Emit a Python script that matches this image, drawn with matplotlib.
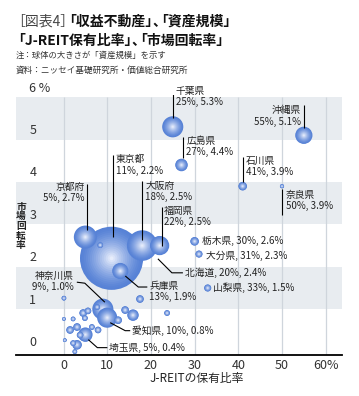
import numpy as np
import matplotlib
matplotlib.use("Agg")
import matplotlib.pyplot as plt

plt.rcParams['font.family'] = ['Noto Sans CJK JP', 'DejaVu Sans']

# labelled prefectures (drawing order: back to front)
names = ['東京都', '北海道', '大阪府', '京都府', '千葉県', '神奈川県', '愛知県', '福岡県',
         '沖縄県', '兵庫県', '埼玉県', '広島県', '石川県', '栃木県', '大分県', '山梨県', '奈良県']
share = [11, 20, 18, 5, 25, 9, 10, 22, 55, 13, 5, 27, 41, 30, 31, 33, 50]          # J-REIT保有比率 (%)
turnover = [2.2, 2.4, 2.5, 2.7, 5.3, 1.0, 0.8, 2.5, 5.1, 1.9, 0.4, 4.4, 3.9, 2.6, 2.3, 1.5, 3.9]  # 市場回転率 (%)
scale = [94, 1.5, 22, 12.5, 10.5, 10.5, 9.5, 8.7, 7, 6.2, 4.9, 3.7, 1.75, 1.75, 1.2, 1.2, 0.42]  # 資産規模 (relative)

# other prefectures (no labels)
other_share = [15.9, 3.1, 17.5, 14.1, 12.5, 3.1, 1.5, 4.5, 5.6, 7.9, 3.8,
               23.7, 4.9, 7.7, 6.5, 2.2, 8.4, 0.1, 2.2, 2.6, 0.1, 0.3]
other_turnover = [0.86, 0.16, 1.24, 0.98, 0.74, 0.58, 0.51, 0.91, 0.96, 0.51, 0.39,
                  0.91, 0.79, 1.05, 0.58, 0.77, 2.51, 1.26, 0.2, 0.0, 0.77, 0.27]
other_scale = [3.1, 2.16, 1.38, 1.38, 1.38, 1.38, 1.38, 1.38, 1.06, 1.06, 1.06,
               0.78, 0.78, 0.78, 0.78, 0.54, 0.78, 0.54, 0.78, 0.54, 0.35, 0.35]

yticks = [0, 1, 2, 3, 4, 5, 6]
ytick_labels = ['0', '1', '2', '3', '4', '5', '6 %']
xticks = [0, 10, 20, 30, 40, 50, 60]
xtick_labels = ['0', '10', '20', '30', '40', '50', '60%']

W, H = 359, 396
fig = plt.figure(figsize=(W / 100, H / 100), dpi=100)
ax = fig.add_axes([16 / W, 1 - 355 / H, 326 / W, 260 / H])
ax.set_xlim(-10.87, 63.73)
ax.set_ylim(-0.08, 6.05)

for lo in (1, 3, 5):
    ax.axhspan(lo, lo + 1, color='#e8ecf0', lw=0, zorder=0)
ax.vlines(xticks, -0.08, 6, color='#cfd5dc', lw=0.9, zorder=1)

for s in ['top', 'right', 'left']:
    ax.spines[s].set_visible(False)
ax.spines['bottom'].set_linewidth(1.3)
ax.set_xticks([])
ax.set_yticks([])

for v, lab in zip(yticks, ytick_labels):
    ax.text(-7.8, v + 0.06, lab, ha='left', va='bottom', fontsize=9, color='#333333', zorder=5)
for v, lab in zip(xticks, xtick_labels):
    ax.text(v, -0.33, lab, ha='center', va='center', fontsize=9, color='#333333')

ax.text(30.4, -0.63, 'J-REITの保有比率', ha='center', va='center', fontsize=8.5, color='#222222')
fig.text(21 / W, 1 - 226 / H, '市\n場\n回\n転\n率', ha='center', va='center', fontsize=7,
         fontweight='bold', linespacing=0.95, color='#222222')

# gradient bubbles
edge = np.array([0.34, 0.51, 0.84])
centre = np.array([0.96, 0.97, 1.0])
n_layers = 16
k = 22.0


def bubble(x, y, v):
    f = 1 - np.arange(n_layers) / n_layers
    t = 1 - f
    cols = [edge + (centre - edge) * tt ** 1.4 for tt in t]
    ax.scatter([x] * n_layers, [y] * n_layers, s=k * v * f ** 2, c=cols, lw=0, zorder=3)


for x, y, v in zip(share, turnover, scale):
    bubble(x, y, v)
order = np.argsort(other_scale)[::-1]
for i in order:
    bubble(other_share[i], other_turnover[i], other_scale[i])


def off(x, y, dx, dy):
    X, Y = ax.transData.transform((x, y))
    return ax.transData.inverted().transform((X + dx, Y + dy))


# leader offsets (px), text offset (px), alignment, two-line?
labels = {
    '千葉県': ([(0, 9), (0, 40)], (3, 41), 'left', 'top', True),
    '沖縄県': ([(0, 7), (0, 30)], (-3, 30), 'right', 'top', True),
    '広島県': ([(2, 7), (2, 28)], (5, 29), 'left', 'top', True),
    '石川県': ([(0, 4), (0, 29)], (3, 30), 'left', 'top', True),
    '奈良県': ([(0, -3), (0, -29)], (4, -4), 'left', 'top', True),
    '京都府': ([(1.5, 7), (1.5, 53)], (-1, 55), 'right', 'top', True),
    '東京都': ([(1.5, 21), (1.5, 103)], (4.5, 104), 'left', 'top', True),
    '大阪府': ([(0, 6), (0, 65)], (3, 65), 'left', 'top', True),
    '福岡県': ([(2, 0), (2, 39)], (4, 40), 'left', 'top', True),
    '栃木県': ([], (7, 0), 'left', 'center', False),
    '大分県': ([], (7, -2), 'left', 'center', False),
    '山梨県': ([], (5.5, 0), 'left', 'center', False),
    '北海道': ([(7, -9), (21, -23), (32, -23)], (34, -23), 'left', 'center', False),
    '兵庫県': ([(5, -5), (18, -16), (27, -16)], (29, -10), 'left', 'top', True),
    '神奈川県': ([(2, 7), (-18, 26), (-26, 27)], (-29, 38), 'right', 'top', True),
    '愛知県': ([(3, -5), (18, -13), (23, -13)], (25, -13), 'left', 'center', False),
    '埼玉県': ([(3, -5), (12, -13), (22, -13)], (24, -13), 'left', 'center', False),
}

for name, (pts, tpos, ha, va, two) in labels.items():
    i = names.index(name)
    x, y = share[i], turnover[i]
    if pts:
        line = np.array([off(x, y, dx, dy) for dx, dy in pts])
        ax.plot(line[:, 0], line[:, 1], color='black', lw=0.8, zorder=4, solid_capstyle='butt')
    sep = '\n' if two else ', '
    txt = f'{name}{sep}{share[i]}%, {turnover[i]:.1f}%'
    tx, ty = off(x, y, *tpos)
    ax.text(tx, ty, txt, ha=ha, va=va, fontsize=7, color='#222222', linespacing=1.15,
            multialignment=ha, zorder=6)


# titles: pieces chained with tightened bracket spacing (offsets in points)
def title_line(x, y, pieces):
    prev = None
    for txt, gap, bold in pieces:
        kw = dict(fontsize=10, va='center', ha='left',
                  fontweight='bold' if bold else 'normal',
                  color='#111111' if bold else '#444444')
        if prev is None:
            prev = fig.text(x, y, txt, **kw)
        else:
            prev = ax.annotate(txt, xy=(1, 0.5), xycoords=prev, xytext=(gap, 0),
                               textcoords='offset points', annotation_clip=False, **kw)


title_line(11 / W, 1 - 22 / H, [('［図表4］', 0, False), ('「収益不動産」', -8.5, True),
                                ('、', -5, True), ('「資産規模」', -8.5, True)])
title_line(11 / W, 1 - 41 / H, [('「J-REIT保有比率」', 0, True), ('、', -5, True),
                                ('「市場回転率」', -8.5, True)])
fig.text(16 / W, 1 - 55 / H, '注：球体の大きさが「資産規模」を示す', fontsize=6, va='center',
         ha='left', color='#333333')
fig.text(16 / W, 1 - 70 / H, '資料：ニッセイ基礎研究所・価値総合研究所', fontsize=6.2, va='center',
         ha='left', color='#333333')

fig.savefig('out.png', dpi=100)
